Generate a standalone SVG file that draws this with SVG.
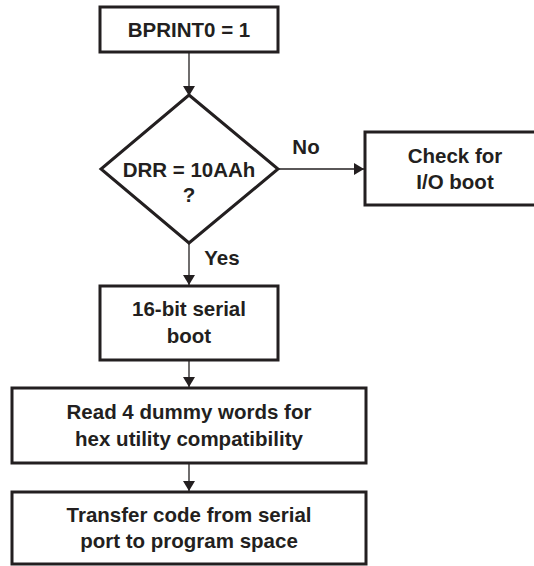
<svg xmlns="http://www.w3.org/2000/svg" width="534" height="566" viewBox="0 0 534 566">
  <style>
    .box { fill: #ffffff; stroke: #231f20; stroke-width: 3; }
    .lbl { font-family: "Liberation Sans", Arial, Helvetica, sans-serif; font-weight: bold; font-size: 20.5px; fill: #231f20; text-anchor: middle; }
    .wire { fill: none; stroke: #231f20; stroke-width: 1.3; }
  </style>
  <defs>
    <marker id="arrow" markerUnits="userSpaceOnUse" markerWidth="12" markerHeight="12" viewBox="0 0 10 12" refX="10" refY="6" orient="auto">
      <path d="M0,0 L10,6 L0,12 Z" fill="#231f20"/>
    </marker>
  </defs>
  <rect width="534" height="566" fill="#ffffff"/>

  <g id="connectors">
    <line class="wire" x1="189" y1="52" x2="189" y2="96" marker-end="url(#arrow)"/>
    <line class="wire" x1="278" y1="169" x2="364" y2="169" marker-end="url(#arrow)"/>
    <line class="wire" x1="189" y1="243" x2="189" y2="285" marker-end="url(#arrow)"/>
    <line class="wire" x1="189" y1="360" x2="189" y2="387" marker-end="url(#arrow)"/>
    <line class="wire" x1="189" y1="463" x2="189" y2="491" marker-end="url(#arrow)"/>
    <text class="lbl" x="306" y="154">No</text>
    <text class="lbl" x="222" y="265">Yes</text>
  </g>

  <g id="start">
    <rect class="box" x="100" y="7" width="178" height="45"/>
    <text class="lbl" x="189" y="37">BPRINT0 = 1</text>
  </g>

  <g id="decision">
    <polygon class="box" points="189,95 278,169 189,243 101,169"/>
    <text class="lbl" x="189" y="177">DRR = 10AAh</text>
    <text class="lbl" x="189" y="202">?</text>
  </g>

  <g id="io-boot">
    <rect class="box" x="365" y="132" width="185" height="73"/>
    <text class="lbl" x="455" y="163">Check for</text>
    <text class="lbl" x="455" y="189">I/O boot</text>
  </g>

  <g id="serial-boot">
    <rect class="box" x="100" y="286" width="178" height="74"/>
    <text class="lbl" x="189" y="316">16-bit serial</text>
    <text class="lbl" x="189" y="343">boot</text>
  </g>

  <g id="dummy-words">
    <rect class="box" x="12" y="388" width="354" height="75"/>
    <text class="lbl" x="189" y="419">Read 4 dummy words for</text>
    <text class="lbl" x="189" y="446">hex utility compatibility</text>
  </g>

  <g id="transfer">
    <rect class="box" x="12" y="492" width="354" height="72"/>
    <text class="lbl" x="189" y="522">Transfer code from serial</text>
    <text class="lbl" x="189" y="548">port to program space</text>
  </g>
</svg>
